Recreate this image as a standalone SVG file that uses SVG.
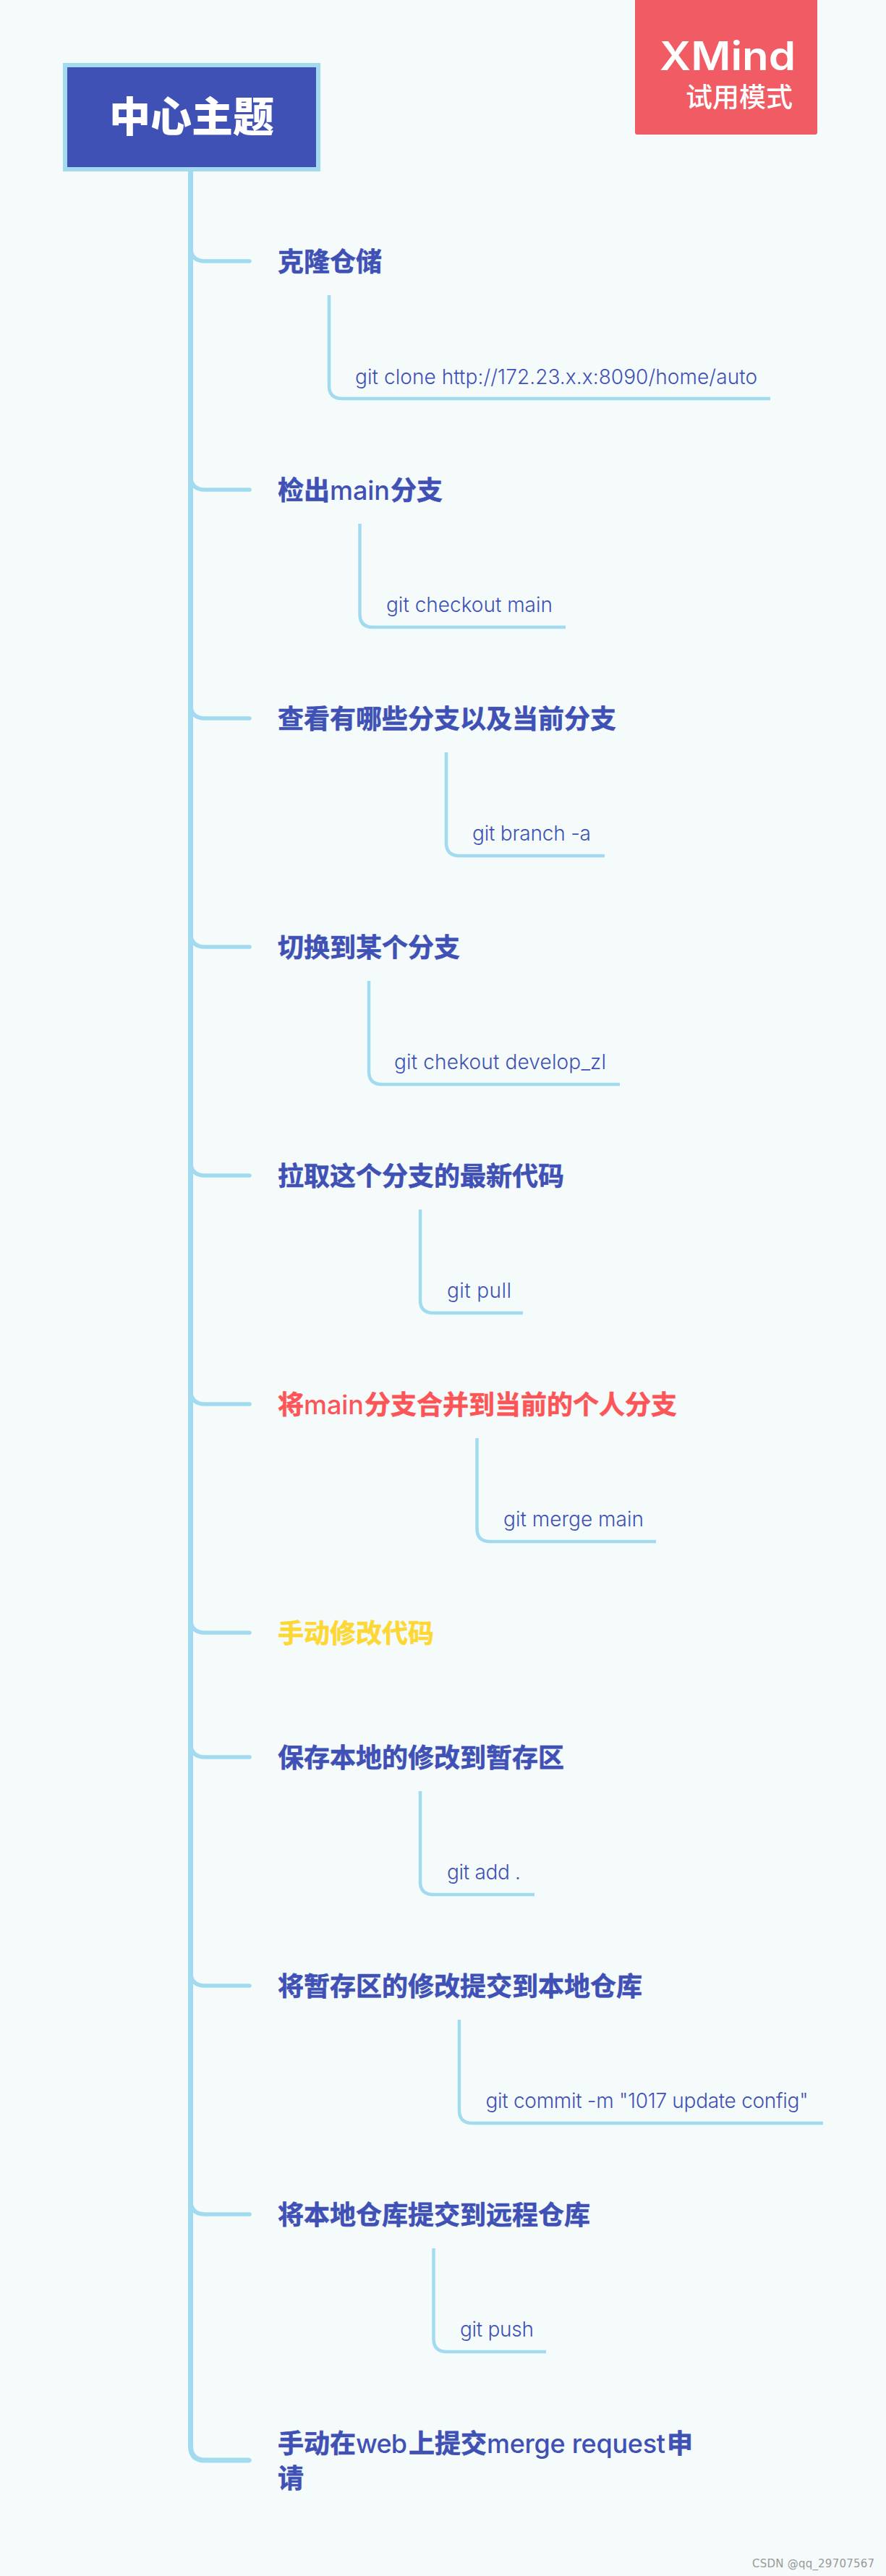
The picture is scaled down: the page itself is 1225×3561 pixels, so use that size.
<svg xmlns="http://www.w3.org/2000/svg" width="1225" height="3561" viewBox="0 0 1225 3561">
<style>
.t{font-family:"Noto Sans CJK SC",sans-serif;font-size:36px;font-weight:700;fill:#3f51b5;stroke:#3f51b5;stroke-width:.6}
.l{font-family:"Inter",sans-serif;font-weight:500;stroke-width:0}
.s{font-family:"Inter","Noto Sans CJK SC",sans-serif;font-size:28px;font-weight:300;fill:#3f51b5}
.tr{fill:none;stroke:#a2dbf0;stroke-width:7}
.m{fill:none;stroke:#a2dbf0;stroke-width:5.500;stroke-linecap:round}
.c{fill:none;stroke:#a2dbf0;stroke-width:4.500;stroke-linecap:butt}
.red{fill:#fc5558;stroke:#fc5558}
.yel{fill:#fdd835;stroke:#fdd835}
</style>
<rect width="1225" height="3561" fill="#f5fbfb"/>
<g id="connectors">
<path class="tr" d="M263.500 235V3381Q263.500 3401 283.500 3401H345"/>
<path class="m" d="M263.500 341Q263.500 361 283.500 361H345"/>
<path class="m" d="M263.500 657Q263.500 677 283.500 677H345"/>
<path class="m" d="M263.500 973Q263.500 993 283.500 993H345"/>
<path class="m" d="M263.500 1289Q263.500 1309 283.500 1309H345"/>
<path class="m" d="M263.500 1605Q263.500 1625 283.500 1625H345"/>
<path class="m" d="M263.500 1921Q263.500 1941 283.500 1941H345"/>
<path class="m" d="M263.500 2237Q263.500 2257 283.500 2257H345"/>
<path class="m" d="M263.500 2409Q263.500 2429 283.500 2429H345"/>
<path class="m" d="M263.500 2725Q263.500 2745 283.500 2745H345"/>
<path class="m" d="M263.500 3041Q263.500 3061 283.500 3061H345"/>
<path class="m" d="M283.500 3401H345"/>
<path class="c" d="M455 408V533Q455 551 473 551H1065"/>
<path class="c" d="M497.500 724V849Q497.500 867 515.500 867H782"/>
<path class="c" d="M617 1040V1165Q617 1183 635 1183H836"/>
<path class="c" d="M510 1356V1481Q510 1499 528 1499H857"/>
<path class="c" d="M581 1672V1797Q581 1815 599 1815H723"/>
<path class="c" d="M659.500 1988V2113Q659.500 2131 677.500 2131H907"/>
<path class="c" d="M581 2476V2601Q581 2619 599 2619H739"/>
<path class="c" d="M635 2792V2917Q635 2935 653 2935H1138"/>
<path class="c" d="M599.500 3108V3233Q599.500 3251 617.500 3251H755"/>
</g>
<g id="center"><rect x="90" y="90" width="350" height="144" fill="#3f51b5" stroke="#a2dbf0" stroke-width="6"/>
<text x="265" y="182" text-anchor="middle" style="font-family:'Noto Sans CJK SC',sans-serif;font-size:57px;font-weight:900;fill:#fff">中心主题</text></g>
<g id="badge"><path d="M878 0H1130V183Q1130 186 1127 186H881Q878 186 878 183Z" fill="#f15b64"/>
<text transform="translate(912 97) scale(1.09 1)" style="font-family:'Inter',sans-serif;font-size:55px;font-weight:600;fill:#fff">XMind</text>
<text x="1096" y="148" text-anchor="end" style="font-family:'Noto Sans CJK SC',sans-serif;font-size:37px;font-weight:500;fill:#fff">试用模式</text></g>
<g id="n1"><text class="t" x="384" y="375">克隆仓储</text><text class="s" x="491" y="531" textLength="556">git clone http://172.23.x.x:8090/home/auto</text></g>
<g id="n2"><text class="t" x="384" y="691">检出<tspan class="l" x="456" textLength="83">main</tspan><tspan x="540">分支</tspan></text><text class="s" x="534" y="846" textLength="230">git checkout main</text></g>
<g id="n3"><text class="t" x="384" y="1007">查看有哪些分支以及当前分支</text><text class="s" x="653" y="1162" textLength="164">git branch -a</text></g>
<g id="n4"><text class="t" x="384" y="1323">切换到某个分支</text><text class="s" x="545" y="1478" textLength="293">git chekout develop_zl</text></g>
<g id="n5"><text class="t" x="384" y="1639">拉取这个分支的最新代码</text><text class="s" x="618" y="1794" textLength="89">git pull</text></g>
<g id="n6"><text class="t red" x="384" y="1955">将<tspan class="l" x="420" textLength="83">main</tspan><tspan x="504">分支合并到当前的个人分支</tspan></text><text class="s" x="696" y="2110" textLength="194">git merge main</text></g>
<g id="n7"><text class="t yel" x="384" y="2271">手动修改代码</text></g>
<g id="n8"><text class="t" x="384" y="2443">保存本地的修改到暂存区</text><text class="s" x="618" y="2598" textLength="102">git add .</text></g>
<g id="n9"><text class="t" x="384" y="2759">将暂存区的修改提交到本地仓库</text><text class="s" x="671.500" y="2914" textLength="446">git commit -m "1017 update config"</text></g>
<g id="n10"><text class="t" x="384" y="3075">将本地仓库提交到远程仓库</text><text class="s" x="636" y="3230" textLength="102">git push</text></g>
<g id="n11"><text class="t" x="384" y="3391">手动在<tspan class="l" x="492" textLength="71">web</tspan><tspan x="565">上提交</tspan><tspan class="l" x="673" textLength="247">merge request</tspan><tspan x="922">申</tspan></text><text class="t" x="384" y="3439">请</text></g>
<text x="1040" y="3549" textLength="169" style="font-family:'DejaVu Sans',sans-serif;font-size:15px;fill:#999">CSDN @qq_29707567</text>
</svg>
